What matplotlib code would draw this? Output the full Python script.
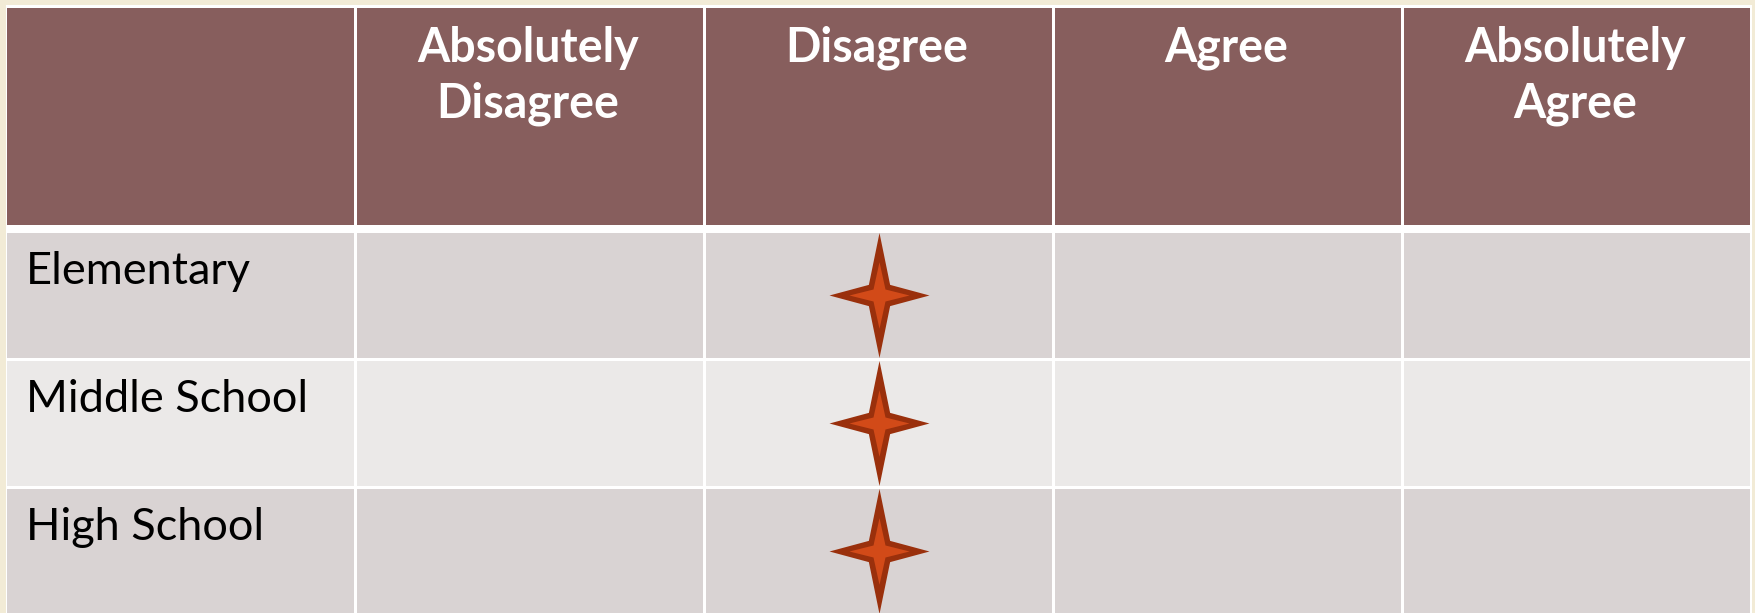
import matplotlib.pyplot as plt
from matplotlib.patches import Rectangle
from matplotlib.path import Path

# table content
columns = ['', 'Absolutely\nDisagree', 'Disagree', 'Agree', 'Absolutely\nAgree']
groups = ['Elementary', 'Middle School', 'High School']
answers = ['Disagree', 'Disagree', 'Disagree']

W, H = 1756, 613
left, right = 6, 1752
head_top, head_bot = 8, 225
body_top = 231
row_h = 128
gap = 1.5

header_color = '#875E5D'
row_colors = ['#D9D3D3', '#EBE9E8']
back_color = '#F2EBD6'


def star(arm, inner):
    verts = [(0, 1), (inner, inner), (arm, 0), (inner, -inner),
             (0, -1), (-inner, -inner), (-arm, 0), (-inner, inner), (0, 1)]
    codes = [Path.MOVETO] + [Path.LINETO] * 7 + [Path.CLOSEPOLY]
    return Path(verts, codes)


def process_plot():
    fig = plt.figure(figsize=(W / 100, H / 100), dpi=100)
    fig.patch.set_facecolor(back_color)
    ax = fig.add_axes([0, 0, 1, 1])
    ax.set_xlim(0, W)
    ax.set_ylim(H, 0)
    ax.axis('off')

    # white frame behind all cells
    ax.add_patch(Rectangle((left, 5), right - left, H, color='white', lw=0))

    col_w = (right - left) / len(columns)
    for i, name in enumerate(columns):
        x0 = left + i * col_w
        ax.add_patch(Rectangle((x0 + gap, head_top), col_w - 2 * gap, head_bot - head_top,
                               color=header_color, lw=0))
        for k, line in enumerate(name.split('\n')):
            ax.text(x0 + col_w / 2 - 2, 62 + 56 * k, line, ha='center', va='baseline',
                    color='white', fontsize=33.5, fontweight='bold', family='Lato')

        for j in range(len(groups)):
            y0 = body_top + j * row_h
            ax.add_patch(Rectangle((x0 + gap, y0 + gap), col_w - 2 * gap, row_h - 2 * gap,
                                   color=row_colors[j % 2], lw=0))

    for j, g in enumerate(groups):
        y0 = body_top + j * row_h
        ax.text(left + 20, y0 + 53, g, ha='left', va='baseline',
                color='black', fontsize=32.5, family='Lato')

        c = columns.index(answers[j])
        cx = left + (c + 0.5) * col_w
        cy = y0 + row_h / 2
        ax.scatter([cx], [cy], marker=star(0.8, 0.17), s=90 ** 2,
                   color='#9A300C', lw=0, zorder=3)
        ax.scatter([cx], [cy], marker=star(0.9, 0.18), s=48 ** 2,
                   color='#D24A18', lw=0, zorder=4)

    plt.savefig('out.png', dpi=100, facecolor=back_color)


if __name__ == "__main__":
    process_plot()
